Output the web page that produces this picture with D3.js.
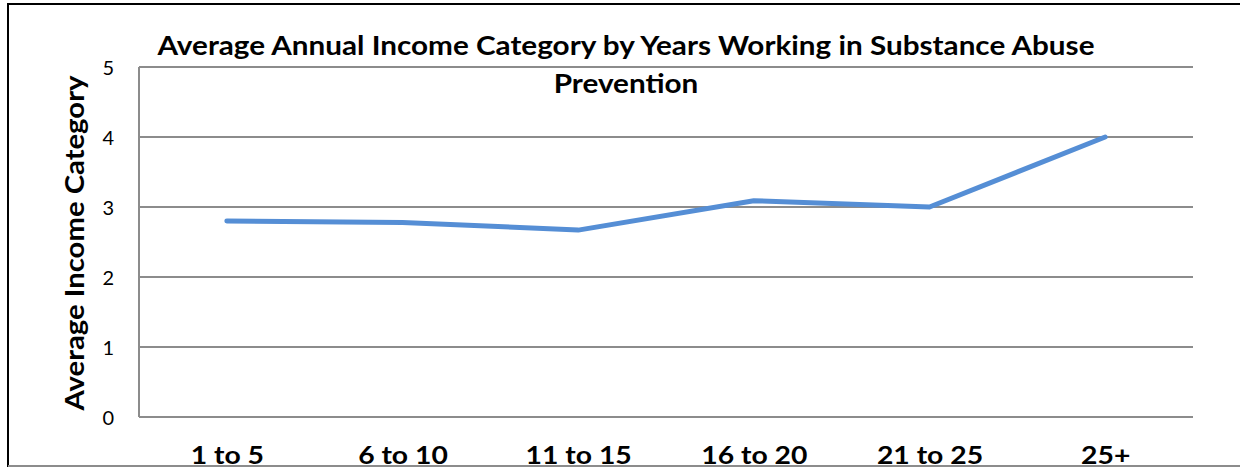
<!DOCTYPE html>
<html>
<head>
<meta charset="utf-8">
<script src="https://cdn.jsdelivr.net/npm/d3@7"></script>
<style>
  html, body { margin: 0; padding: 0; background: #fff; }
  svg { display: block; }
  text { font-family: Lato, "Open Sans", "DejaVu Sans", sans-serif; fill: #000; }
</style>
</head>
<body>
<svg id="chart" width="1240" height="468"></svg>
<script>
// Years working in substance abuse prevention
const categories = ["1 to 5", "6 to 10", "11 to 15", "16 to 20", "21 to 25", "25+"];
// Average annual income category per group
const incomeValues = [2.8, 2.78, 2.67, 3.09, 3.0, 4.0];
const yTicks = [0, 1, 2, 3, 4, 5];
const titleLines = ["Average Annual Income Category by Years Working in Substance Abuse", "Prevention"];
const yTitle = "Average Income Category";

const svg = d3.select("#chart");
const W = 1240, H = 468;
const plot = { left: 139, right: 1193, top: 67, bottom: 417 };

// Widen a text element horizontally by a factor, keeping its font size
function stretch(sel, k) {
  sel.each(function () {
    const w = this.getComputedTextLength();
    d3.select(this).attr("textLength", w * k).attr("lengthAdjust", "spacingAndGlyphs");
  });
}

// Outer chart frame (runs past the right edge)
svg.append("rect")
  .attr("x", 8).attr("y", 4)
  .attr("width", W + 20).attr("height", 462)
  .attr("fill", "none").attr("stroke", "#000").attr("stroke-width", 2);
svg.append("line")
  .attr("x1", 8).attr("x2", W).attr("y1", 466).attr("y2", 466)
  .attr("stroke", "#8c8c8c").attr("stroke-width", 2);

const x = d3.scalePoint().domain(categories)
  .range([plot.left, plot.right]).padding(0.5);
const y = d3.scaleLinear().domain([0, 5]).range([plot.bottom, plot.top]);

// Horizontal gridlines
svg.append("g")
  .selectAll("line").data(yTicks).join("line")
  .attr("x1", plot.left).attr("x2", plot.right)
  .attr("y1", d => y(d)).attr("y2", d => y(d))
  .attr("stroke", "#8c8c8c").attr("stroke-width", 2);

// Vertical axis line
svg.append("line")
  .attr("x1", plot.left).attr("x2", plot.left)
  .attr("y1", plot.top).attr("y2", plot.bottom)
  .attr("stroke", "#8c8c8c").attr("stroke-width", 2);

// Y axis tick labels
const yAxis = d3.axisLeft(y).tickValues(yTicks).tickSize(0).tickPadding(25).tickFormat(d3.format("d"));
const gy = svg.append("g").attr("transform", `translate(${plot.left},0)`).call(yAxis);
gy.select(".domain").remove();
gy.selectAll("text")
  .style("font-family", "Lato, 'Open Sans', sans-serif")
  .style("font-size", "20px").attr("fill", "#000").attr("dy", "0.35em");

// X axis category labels
const xAxis = d3.axisBottom(x).tickSize(0).tickPadding(0);
const gx = svg.append("g").attr("transform", `translate(0,${plot.bottom})`).call(xAxis);
gx.select(".domain").remove();
const xLabels = gx.selectAll("text")
  .style("font-family", "Lato, 'Open Sans', sans-serif")
  .style("font-size", "24px").style("font-weight", "bold")
  .attr("fill", "#000").attr("dy", null).attr("y", 47);
stretch(xLabels, 1.18);

// Data line
const line = d3.line()
  .x((d, i) => x(categories[i]))
  .y(d => y(d));
svg.append("path")
  .datum(incomeValues)
  .attr("d", line)
  .attr("fill", "none")
  .attr("stroke", "#558ED5")
  .attr("stroke-width", 5)
  .attr("stroke-linejoin", "round")
  .attr("stroke-linecap", "round");

// Title, two centred lines
const title = svg.append("g").style("font-size", "26px").style("font-weight", "bold");
const t1 = title.append("text").attr("text-anchor", "middle").attr("x", 626).attr("y", 55).text(titleLines[0]);
const titleK = 937 / t1.node().getComputedTextLength();
stretch(t1, titleK);
const t2 = title.append("text").attr("text-anchor", "middle").attr("x", 626).attr("y", 93).text(titleLines[1]);
stretch(t2, titleK);

// Y axis title
const yt = svg.append("text")
  .attr("transform", `translate(84,243) rotate(-90)`)
  .attr("text-anchor", "middle")
  .style("font-size", "26px").style("font-weight", "bold")
  .text(yTitle);
stretch(yt, 335 / yt.node().getComputedTextLength());
</script>
</body>
</html>
